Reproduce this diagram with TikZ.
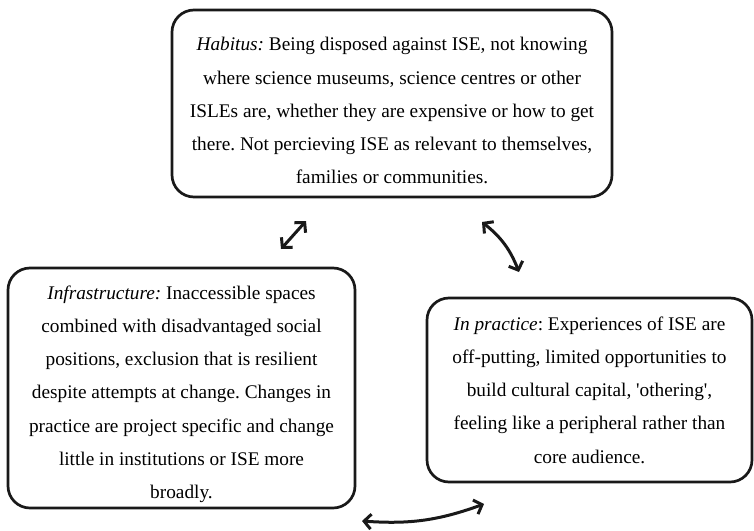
\documentclass[tikz,border=0pt]{standalone}
\usepackage{fontspec}
\setmainfont{Liberation Serif}[Ligatures=TeXOff]
\usetikzlibrary{arrows.meta}
\frenchspacing
\begin{document}
\begin{tikzpicture}[x=1pt,y=1pt,
  box/.style={draw=black!90, line width=2.7pt, rounded corners=22pt, align=center,
    font=\fontsize{19.3}{33.3}\selectfont\frenchspacing, inner sep=0pt},
  link/.style={line width=3pt, black!90, {Straight Barb[length=7pt,width=15pt]}-{Straight Barb[length=7pt,width=15pt]}}
]
\useasboundingbox (0,0) rectangle (754,-530);
\node[box, minimum width=440pt, minimum height=187pt] (hab) at (392,-103.5)
  {\rule{0pt}{28pt}\textit{Habitus:} Being disposed against ISE, not knowing\\
   where science museums, science centres or other\\
   ISLEs are, whether they are expensive or how to get\\
   there. Not percieving ISE as relevant to themselves,\\
   families or communities.};
\node[box, minimum width=347pt, minimum height=240pt] (inf) at (181.5,-388)
  {\rule{0pt}{26pt}\textit{Infrastructure:} Inaccessible spaces\\
   combined with disadvantaged social\\
   positions, exclusion that is resilient\\
   despite attempts at change. Changes in\\
   practice are project specific and change\\
   little in institutions or ISE more\\
   broadly.};
\node[box, minimum width=325pt, minimum height=184pt] (prac) at (589.5,-390)
  {\rule{0pt}{12pt}\textit{In practice}: Experiences of ISE are\\
   off-putting, limited opportunities to\\
   build cultural capital, 'othering',\\
   feeling like a peripheral rather than\\
   core audience.};
\coordinate (a1s) at (281,-249);
\coordinate (a1e) at (306,-221);
\coordinate (a2s) at (482,-222);
\coordinate (a2e) at (519,-272);
\coordinate (a3s) at (362,-521);
\coordinate (a3e) at (484,-504);
\draw[link] (a1s) -- (a1e);
\draw[link] (a2s) to[bend left=15] (a2e);
\draw[link] (a3s) to[bend right=12] (a3e);
\end{tikzpicture}
\end{document}
